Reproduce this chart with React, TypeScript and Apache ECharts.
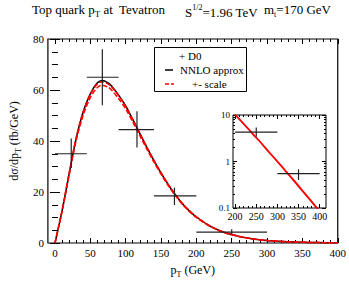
import React, { useEffect, useRef } from "react";
import * as echarts from "echarts";

// ---- data ----
const ptGrid = [0, 10, 20, 30, 40, 50, 60, 67, 75, 80, 90, 100, 110, 120, 130, 140, 150, 160, 170, 180, 190, 200, 220, 240, 260, 280, 300, 320, 340, 360, 380, 400];
const nnlo = [0, 12.5, 27, 41, 51.5, 58.5, 62.8, 63.7, 62.8, 61.6, 58, 53.8, 48.5, 43, 37.5, 32.3, 27.5, 23, 19, 15.5, 12.6, 10.2, 6.5, 4.1, 2.6, 1.6, 1.0, 0.62, 0.38, 0.23, 0.14, 0.085];
const scaleHi = [0, 12.8, 27.4, 41.3, 51.6, 58.3, 62.4, 63.2, 62.4, 61.3, 57.8, 53.6, 48.4, 43, 37.6, 32.4, 27.6, 23.1, 19.1, 15.6, 12.7, 10.3, 6.6, 4.15, 2.65, 1.63, 1.02, 0.63, 0.39, 0.235, 0.143, 0.087];
const scaleLo = [0, 12.2, 26.5, 40.2, 50.2, 57, 61, 61.9, 61.1, 60, 56.6, 52.6, 47.5, 42.1, 36.8, 31.7, 27, 22.6, 18.7, 15.2, 12.4, 10, 6.4, 4.0, 2.55, 1.57, 0.98, 0.6, 0.37, 0.225, 0.137, 0.083];

const d0X = [23, 67, 116, 169, 250, 350];
const d0Y = [35, 65, 44.5, 18.5, 4.3, 0.55];
const d0XLo = [0, 45, 90, 140, 200, 300];
const d0XHi = [45, 90, 140, 200, 300, 400];
const d0YLo = [29.4, 54, 37.5, 14.9, 3.4, 0.4];
const d0YHi = [41, 76, 51.7, 21.7, 5.4, 0.68];

const mainXTicks = [0, 50, 100, 150, 200, 250, 300, 350, 400];
const mainXMinor = [10, 20, 30, 40, 60, 70, 80, 90, 110, 120, 130, 140, 160, 170, 180, 190, 210, 220, 230, 240, 260, 270, 280, 290, 310, 320, 330, 340, 360, 370, 380, 390];
const insetXTicks = [200, 250, 300, 350, 400];
const insetXMinor = [210, 220, 230, 240, 260, 270, 280, 290, 310, 320, 330, 340, 360, 370, 380, 390];
const insetYTicks = [0.1, 1, 10];
const insetYMinor = [0.2, 0.3, 0.4, 0.5, 0.6, 0.7, 0.8, 0.9, 2, 3, 4, 5, 6, 7, 8, 9];

const FONT = "Liberation Serif";

export default function App() {
  const ref = useRef<HTMLDivElement>(null);
  useEffect(() => {
    if (!ref.current) return;
    const chart = echarts.init(ref.current, null, { renderer: "svg" });

    const curve = (ys: number[], from = -Infinity) =>
      ptGrid.map((x, i) => [x, ys[i]]).filter((p) => p[0] >= from);
    const errData = d0X.map((x, i) => [x, d0Y[i], d0XLo[i], d0XHi[i], d0YLo[i], d0YHi[i]]);

    const renderErr = (params: any, api: any) => {
      const x = api.value(0), y = api.value(1);
      const l = api.coord([api.value(2), y]);
      const r = api.coord([api.value(3), y]);
      const t = api.coord([x, api.value(5)]);
      const b = api.coord([x, api.value(4)]);
      const st = { stroke: "#222", lineWidth: 1.2 };
      return {
        type: "group",
        children: [
          { type: "line", shape: { x1: l[0], y1: l[1], x2: r[0], y2: r[1] }, style: st },
          { type: "line", shape: { x1: t[0], y1: t[1], x2: b[0], y2: b[1] }, style: st },
        ],
      };
    };

    const tickStyle = { color: "#000", width: 1 };
    const labelStyle = { fontFamily: FONT, fontSize: 11, color: "#000" };

    const mkX = (grid: number, min: number, max: number, pos: string, vals: number[], len: number, labels: boolean, extra: any = {}) => ({
      type: "value", gridIndex: grid, min, max, position: pos,
      axisLine: { show: false }, splitLine: { show: false },
      axisTick: { show: true, inside: true, length: len, customValues: vals, lineStyle: tickStyle },
      axisLabel: labels ? { show: true, customValues: vals, margin: 4, ...labelStyle } : { show: false },
      ...extra,
    });

    const rich = {
      a: { fontFamily: FONT, fontSize: 12, lineHeight: 16, color: "#000" },
      s: { fontFamily: FONT, fontSize: 8, lineHeight: 8, verticalAlign: "bottom", color: "#000" },
    };

    const option: any = {
      animation: false,
      backgroundColor: "#fff",
      textStyle: { fontFamily: FONT, color: "#000" },
      grid: [
        { left: 31, top: 39, right: 8, bottom: 29, show: true, borderColor: "#000", borderWidth: 1.2, backgroundColor: "transparent" },
        { left: 233, top: 115, width: 93, height: 93, show: true, borderColor: "#000", borderWidth: 1, backgroundColor: "#fff", z: 10 },
      ],
      xAxis: [
        mkX(0, -10, 400, "bottom", mainXTicks, 5, true, {
          name: "{a|p}{s|T}{a| (GeV)}", nameLocation: "middle", nameGap: 19,
          nameTextStyle: { rich },
        }),
        mkX(0, -10, 400, "bottom", mainXMinor, 3, false),
        mkX(0, -10, 400, "top", mainXTicks, 5, false),
        mkX(0, -10, 400, "top", mainXMinor, 3, false),
        mkX(1, 195, 415, "bottom", insetXTicks, 4, true, { z: 11, axisLabel: { show: true, customValues: insetXTicks, margin: 3, ...labelStyle, fontSize: 10 } }),
        mkX(1, 195, 415, "bottom", insetXMinor, 2, false, { z: 11 }),
        mkX(1, 195, 415, "top", insetXTicks, 4, false, { z: 11 }),
        mkX(1, 195, 415, "top", insetXMinor, 2, false, { z: 11 }),
      ],
      yAxis: [
        {
          type: "value", gridIndex: 0, min: 0, max: 80, interval: 20, position: "left",
          axisLine: { show: false }, splitLine: { show: false },
          axisTick: { show: true, inside: true, length: 5, lineStyle: tickStyle },
          minorTick: { show: true, splitNumber: 4, length: 3, lineStyle: tickStyle },
          axisLabel: { margin: 4, ...labelStyle },
          name: "{a|dσ/dp}{s|T}{a| (fb/GeV)}", nameLocation: "middle", nameGap: 18, nameRotate: 90,
          nameTextStyle: { rich },
        },
        {
          type: "value", gridIndex: 0, min: 0, max: 80, interval: 20, position: "right",
          axisLine: { show: false }, splitLine: { show: false },
          axisTick: { show: true, inside: true, length: 5, lineStyle: tickStyle },
          minorTick: { show: true, splitNumber: 4, length: 3, lineStyle: tickStyle },
          axisLabel: { show: false },
        },
        {
          type: "log", logBase: 10, gridIndex: 1, min: 0.1, max: 10, position: "left", z: 11,
          axisLine: { show: false }, splitLine: { show: false },
          axisTick: { show: true, inside: true, length: 4, customValues: insetYTicks, lineStyle: tickStyle },
          axisLabel: { customValues: insetYTicks, margin: 3, ...labelStyle, fontSize: 9 },
        },
        {
          type: "log", logBase: 10, gridIndex: 1, min: 0.1, max: 10, position: "left", z: 11,
          axisLine: { show: false }, splitLine: { show: false },
          axisTick: { show: true, inside: true, length: 2, customValues: insetYMinor, lineStyle: tickStyle },
          axisLabel: { show: false },
        },
        {
          type: "log", logBase: 10, gridIndex: 1, min: 0.1, max: 10, position: "right", z: 11,
          axisLine: { show: false }, splitLine: { show: false },
          axisTick: { show: true, inside: true, length: 4, customValues: insetYTicks, lineStyle: tickStyle },
          axisLabel: { show: false },
        },
        {
          type: "log", logBase: 10, gridIndex: 1, min: 0.1, max: 10, position: "right", z: 11,
          axisLine: { show: false }, splitLine: { show: false },
          axisTick: { show: true, inside: true, length: 2, customValues: insetYMinor, lineStyle: tickStyle },
          axisLabel: { show: false },
        },
      ],
      series: [
        { type: "line", xAxisIndex: 0, yAxisIndex: 0, data: curve(nnlo), smooth: 0.3, showSymbol: false, lineStyle: { color: "#000", width: 1.5 }, z: 2 },
        { type: "line", xAxisIndex: 0, yAxisIndex: 0, data: curve(scaleHi), smooth: 0.3, showSymbol: false, lineStyle: { color: "#ff0000", width: 1.5, type: [5, 2] }, z: 3 },
        { type: "line", xAxisIndex: 0, yAxisIndex: 0, data: curve(scaleLo), smooth: 0.3, showSymbol: false, lineStyle: { color: "#ff0000", width: 1.5, type: [5, 2] }, z: 3 },
        { type: "custom", xAxisIndex: 0, yAxisIndex: 0, data: errData.slice(0, 5), renderItem: renderErr, clip: true, z: 4 },
        { type: "line", xAxisIndex: 4, yAxisIndex: 2, data: curve(scaleHi, 200), smooth: 0.3, showSymbol: false, lineStyle: { color: "#ff0000", width: 1.3 }, z: 12 },
        { type: "line", xAxisIndex: 4, yAxisIndex: 2, data: curve(scaleLo, 200), smooth: 0.3, showSymbol: false, lineStyle: { color: "#ff0000", width: 1.3 }, z: 12 },
        { type: "custom", xAxisIndex: 4, yAxisIndex: 2, data: errData.slice(4), renderItem: renderErr, clip: true, z: 13 },
      ],
      graphic: [
        {
          type: "text", left: 32, top: 3, z: 20,
          style: {
            text: "{a|Top quark p}{s|T}{a| at  Tevatron}",
            rich: { a: { ...rich.a, fontSize: 13, lineHeight: 18 }, s: { ...rich.s, fontSize: 9, lineHeight: 9 } },
          },
        },
        {
          type: "text", left: 185, top: 3, z: 20,
          style: {
            text: "{a|S}{p|1/2}{a|=1.96 TeV}",
            rich: { a: { ...rich.a, fontSize: 13, lineHeight: 18 }, p: { fontFamily: FONT, fontSize: 8, lineHeight: 8, verticalAlign: "top", color: "#000" } },
          },
        },
        {
          type: "text", left: 264, top: 3, z: 20,
          style: {
            text: "{a|m}{s|t}{a|=170 GeV}",
            rich: { a: { ...rich.a, fontSize: 13, lineHeight: 18 }, s: { ...rich.s, fontSize: 8, lineHeight: 8 } },
          },
        },
        // legend box
        { type: "rect", z: 20, shape: { x: 154.5, y: 47.5, width: 92, height: 44 }, style: { fill: "#fff", stroke: "#000", lineWidth: 1 } },
        { type: "text", z: 21, x: 179, y: 56, style: { text: "+ D0", fontFamily: FONT, fontSize: 11, fill: "#000", verticalAlign: "middle" } },
        { type: "line", z: 21, shape: { x1: 165, y1: 70, x2: 173, y2: 70 }, style: { stroke: "#000", lineWidth: 1.5 } },
        { type: "text", z: 21, x: 180, y: 70, style: { text: "NNLO approx", fontFamily: FONT, fontSize: 11, fill: "#000", verticalAlign: "middle" } },
        { type: "line", z: 21, shape: { x1: 165, y1: 84, x2: 174, y2: 84 }, style: { stroke: "#ff0000", lineWidth: 1.5, lineDash: [4, 2] } },
        { type: "text", z: 21, x: 192, y: 84, style: { text: "+- scale", fontFamily: FONT, fontSize: 11, fill: "#000", verticalAlign: "middle" } },
      ],
    };
    chart.setOption(option);
    return () => chart.dispose();
  }, []);
  return <div ref={ref} style={{ position: "fixed", left: 0, top: 0, width: 349, height: 283 }} />;
}
